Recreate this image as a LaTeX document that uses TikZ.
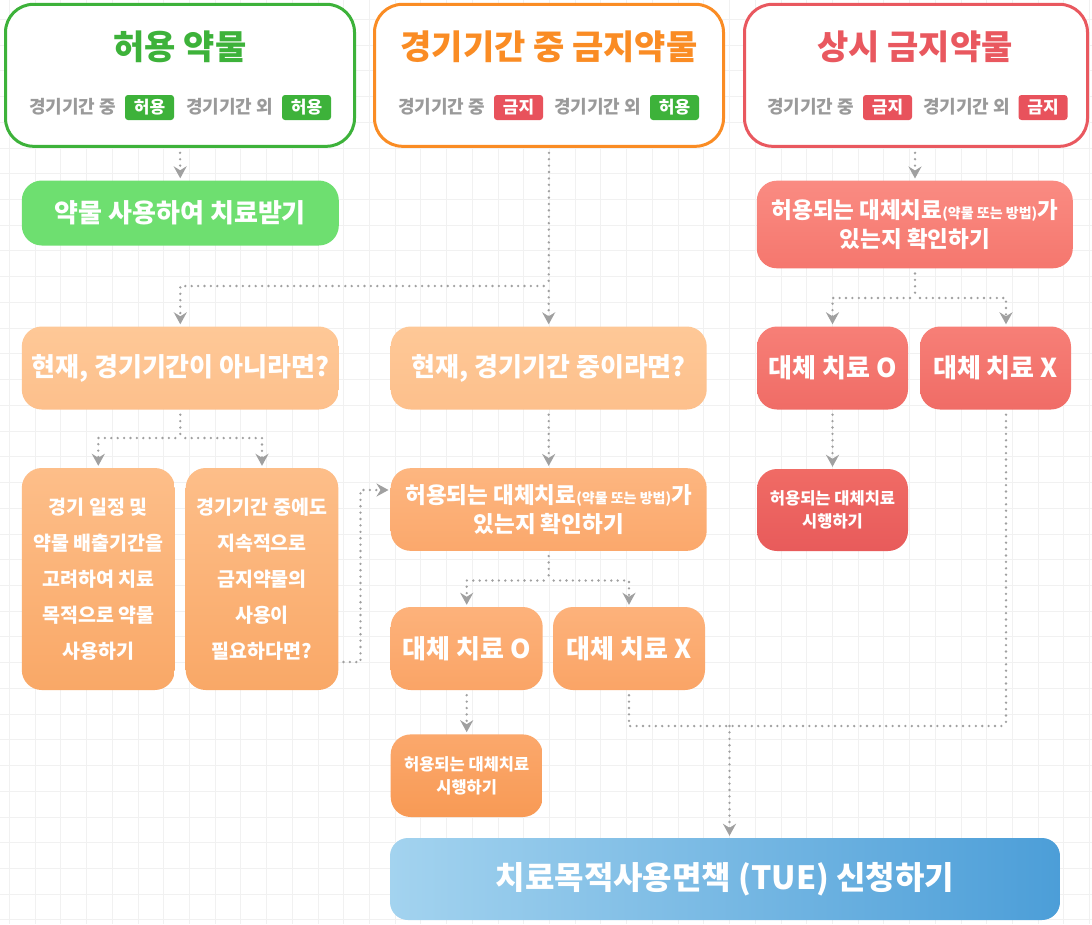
\documentclass[tikz,border=0pt]{standalone}
\usepackage{fontspec}
\setmainfont{Noto Sans CJK KR}[BoldFont={* Black}]
\usetikzlibrary{arrows.meta,calc}
\newcommand\fsz[2]{\fontsize{#1}{#2}\selectfont}
\definecolor{cGreen}{HTML}{3DB23A}
\definecolor{cOrange}{HTML}{FA8C24}
\definecolor{cRed}{HTML}{E9585F}
\definecolor{cBadgeR}{HTML}{E8525C}
\definecolor{cSub}{HTML}{9A9A9A}
\definecolor{cGrid}{HTML}{F1F1F1}
\definecolor{cDot}{HTML}{A0A0A0}
\definecolor{cGreenBox}{HTML}{6EDF70}
\definecolor{cPeachT}{HTML}{FEC897}
\definecolor{cPeachB}{HTML}{FDC08C}
\definecolor{cPeach2T}{HTML}{FDBE89}
\definecolor{cPeach2B}{HTML}{F9A867}
\definecolor{cOrT}{HTML}{FDB680}
\definecolor{cOrB}{HTML}{FBA86C}
\definecolor{cOr2T}{HTML}{FDB27B}
\definecolor{cOr2B}{HTML}{FAA466}
\definecolor{cOr3T}{HTML}{FBA86C}
\definecolor{cOr3B}{HTML}{F89A55}
\definecolor{cRdT}{HTML}{FA8B82}
\definecolor{cRdB}{HTML}{F5776E}
\definecolor{cRd2T}{HTML}{F77F77}
\definecolor{cRd2B}{HTML}{F06C66}
\definecolor{cRd3T}{HTML}{F06B65}
\definecolor{cRd3B}{HTML}{E85B5B}
\definecolor{cBlueL}{HTML}{A3D3EF}
\definecolor{cBlueR}{HTML}{4C9ED8}
\tikzset{
  gridline/.style={draw=cGrid, line width=0.8pt},
  hdr/.style={draw, line width=3pt, rounded corners=28pt, fill=white, minimum width=#1, minimum height=142pt, inner sep=0pt},
  ttl/.style={font=\bfseries\fsz{34}{38}, inner sep=0pt},
  sub/.style={font=\bfseries\fsz{18}{20}, text=cSub, inner sep=0pt, anchor=west},
  badge/.style={fill=#1, rounded corners=3pt, text=white, font=\bfseries\fsz{17}{18}, inner sep=0pt, minimum height=25pt, minimum width=49pt},
  box/.style={rectangle, rounded corners=20pt, align=center, text=white, font=\bfseries\fsz{26}{30}, inner sep=0pt},
  conn/.style={draw=cDot, line width=2.6pt, line cap=round, dash pattern=on 0pt off 6.4pt, shorten <=5pt},
  arr/.style={conn, shorten >=2pt, -{Stealth[length=12pt,width=13pt,inset=4pt]}},
}
\begin{document}
\begin{tikzpicture}[x=1pt,y=-1pt]
\useasboundingbox (0,0) rectangle (1092,924);
\fill[white] (0,0) rectangle (1092,924);
\foreach \i in {0,...,42} \draw[gridline] (9.3+\i*25.72,0) -- (9.3+\i*25.72,924);
\foreach \j in {0,...,35} \draw[gridline] (0,19.3+\j*25.73) -- (1092,19.3+\j*25.73);

% headers
\node[hdr=349pt, draw=cGreen] (hA) at (180,75.3) {};
\node[hdr=349pt, draw=cOrange] (hB) at (549,75.3) {};
\node[hdr=343pt, draw=cRed] (hC) at (916,75.3) {};
\node[ttl, text=cGreen] (tA) at (180,47) {허용 약물};
\node[ttl, text=cOrange] (tB) at (549,47) {경기기간 중 금지약물};
\node[ttl, text=cRed] (tC) at (915,47) {상시 금지약물};

\node[sub] (sA1) at (29,107) {경기기간 중};
\node[badge=cGreen] (bA1) at (149.5,107.5) {허용};
\node[sub] (sA2) at (186,107) {경기기간 외};
\node[badge=cGreen] (bA2) at (306.5,107.5) {허용};

\node[sub] (sB1) at (398,107) {경기기간 중};
\node[badge=cBadgeR] (bB1) at (518.5,107.5) {금지};
\node[sub] (sB2) at (554,107) {경기기간 외};
\node[badge=cGreen] (bB2) at (674.5,107.5) {허용};

\node[sub] (sC1) at (767,107) {경기기간 중};
\node[badge=cBadgeR] (bC1) at (887.5,107.5) {금지};
\node[sub] (sC2) at (923,107) {경기기간 외};
\node[badge=cBadgeR] (bC2) at (1043,107.5) {금지};

% boxes
\node[box, fill=cGreenBox, minimum width=317pt, minimum height=65pt] (g1) at (180.3,213) {약물 사용하여 치료받기};
\node[box, top color=cPeachT, bottom color=cPeachB, minimum width=317pt, minimum height=83pt] (pA) at (180.3,368) {현재, 경기기간이 아니라면?};
\node[box, top color=cPeachT, bottom color=cPeachB, minimum width=316pt, minimum height=83pt] (pB) at (548.7,368) {현재, 경기기간 중이라면?};
\node[box, top color=cPeach2T, bottom color=cPeach2B, minimum width=153pt, minimum height=222pt, font=\bfseries\fsz{19.5}{36}] (pC) at (98.3,579) {경기 일정 및\\약물 배출기간을\\고려하여 치료\\목적으로 약물\\사용하기};
\node[box, top color=cPeach2T, bottom color=cPeach2B, minimum width=152.6pt, minimum height=222pt, font=\bfseries\fsz{19.5}{36}] (pD) at (262,579) {경기기간 중에도\\지속적으로\\금지약물의\\사용이\\필요하다면?};
\node[box, top color=cOrT, bottom color=cOrB, minimum width=316pt, minimum height=82.7pt, font=\bfseries\fsz{22.5}{29}] (oA) at (548.7,509.5) {허용되는 대체치료{\fsz{14}{14}(약물 또는 방법)}가\\있는지 확인하기};
\node[box, top color=cOr2T, bottom color=cOr2B, minimum width=152pt, minimum height=83pt] (oO) at (466.7,648.5) {대체 치료 O};
\node[box, top color=cOr2T, bottom color=cOr2B, minimum width=152pt, minimum height=83pt] (oX) at (629,648.5) {대체 치료 X};
\node[box, top color=cOr3T, bottom color=cOr3B, minimum width=152pt, minimum height=82.6pt, font=\bfseries\fsz{16.5}{23}] (oT) at (466.7,775.7) {허용되는 대체치료\\시행하기};

\node[box, top color=cRdT, bottom color=cRdB, minimum width=316pt, minimum height=87.6pt, font=\bfseries\fsz{22.5}{29}] (rA) at (914.8,224.5) {허용되는 대체치료{\fsz{14}{14}(약물 또는 방법)}가\\있는지 확인하기};
\node[box, top color=cRd2T, bottom color=cRd2B, minimum width=151pt, minimum height=83pt] (rO) at (832.5,368) {대체 치료 O};
\node[box, top color=cRd2T, bottom color=cRd2B, minimum width=151pt, minimum height=83pt] (rX) at (995.5,368) {대체 치료 X};
\node[box, top color=cRd3T, bottom color=cRd3B, minimum width=151pt, minimum height=82pt, font=\bfseries\fsz{16.5}{23}] (rT) at (832.5,510) {허용되는 대체치료\\시행하기};

\node[box, left color=cBlueL, right color=cBlueR, minimum width=670pt, minimum height=82pt, rounded corners=18pt, font=\bfseries\fsz{32}{36}] (tue) at (725,879) {치료목적사용면책 (TUE) 신청하기};

% junctions
\coordinate (j1) at (548.7,286);
\coordinate (j2) at (180.3,438);
\coordinate (j3) at (360.5,662);
\coordinate (j4) at (360.5,490);
\coordinate (j5) at (548.7,580.5);
\coordinate (j6) at (1006,726);
\coordinate (j7) at (729.5,726);
\coordinate (j8) at (915,298);

% connectors
\draw[arr] (hA.south) -- (g1.north);
\draw[conn] (hB.south) -- (j1);
\draw[arr] (j1) -- (pB.north);
\draw[arr] (j1) -| (pA.north);
\draw[conn] (pA.south) -- (j2);
\draw[arr] (j2) -| (pC.north);
\draw[arr] (j2) -| (pD.north);
\draw[arr] (pD.east |- j3) -- (j3) -- (j4) -- (oA.west |- j4);
\draw[arr] (pB.south) -- (oA.north);
\draw[conn] (oA.south) -- (j5);
\draw[arr] (j5) -| (oO.north);
\draw[arr] (j5) -| (oX.north);
\draw[arr] (oO.south) -- (oT.north);
\draw[conn] (oX.south) |- (j6);
\draw[conn] (rX.south -| j6) -- (j6);
\draw[arr, shorten <=0pt] (j7) -- (tue.north -| j7);
\draw[arr] (hC.south -| j8) -- (rA.north -| j8);
\draw[conn] (rA.south -| j8) -- (j8);
\draw[arr] (j8) -| (rO.north);
\draw[arr] (j8) -| (rX.north -| j6);
\draw[arr] (rO.south) -- (rT.north);
\end{tikzpicture}
\end{document}
